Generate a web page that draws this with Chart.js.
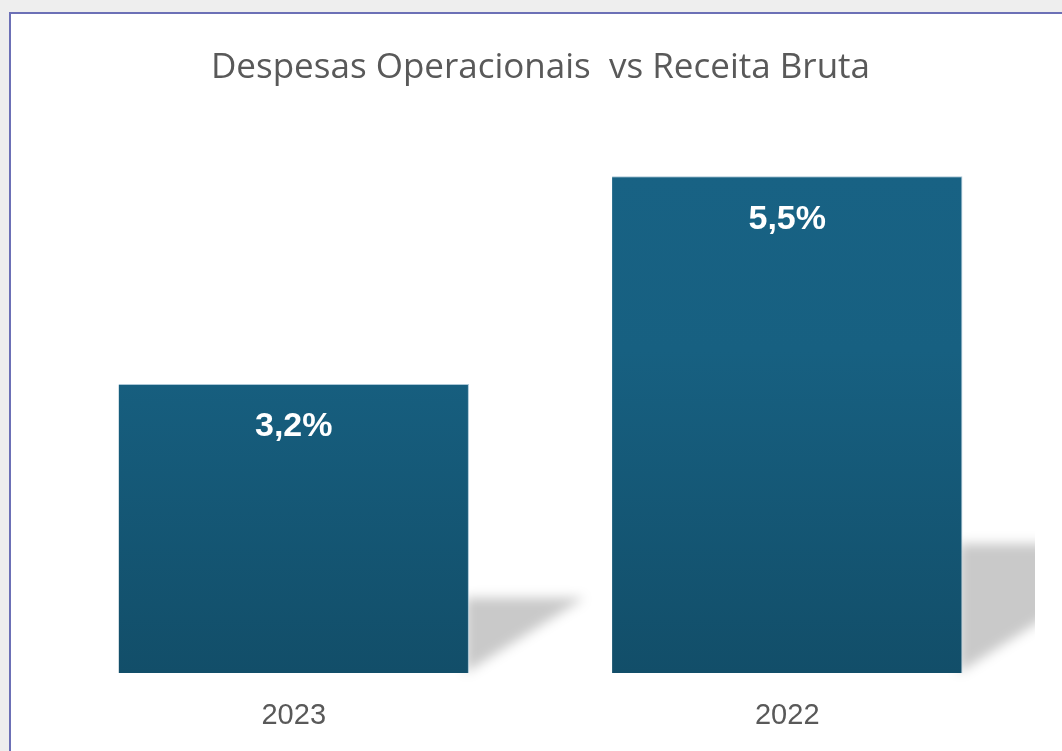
<!DOCTYPE html>
<html>
<head>
<meta charset="utf-8">
<script src="https://cdn.jsdelivr.net/npm/chart.js@4.4.0/dist/chart.umd.min.js"></script>
<style>
  html,body{margin:0;padding:0;background:#eeeeee;width:1062px;height:751px;overflow:hidden;}
  #panel{position:absolute;left:9px;top:12px;width:1100px;height:800px;background:#fff;border-top:2px solid #6c70b6;border-left:2px solid #6c70b6;}
  #c{position:absolute;left:0;top:0;}
</style>
</head>
<body>
<div id="panel"></div>
<canvas id="c" width="1062" height="751"></canvas>
<script>
const title = 'Despesas Operacionais  vs Receita Bruta';
const categories = ['2023', '2022'];
const values = [3.2, 5.5];
const valueLabels = ['3,2%', '5,5%'];

const barTop = '#186284';
const barBottom = '#124e69';

const shadowPlugin = {
  id: 'barShadow',
  beforeDatasetsDraw(chart) {
    const ctx = chart.ctx;
    const area = chart.chartArea;
    const meta = chart.getDatasetMeta(0);
    meta.data.forEach(el => {
      const g = ctx.createLinearGradient(0, el.y, 0, el.base);
      g.addColorStop(0, barTop);
      g.addColorStop(0.35, '#176081');
      g.addColorStop(1, barBottom);
      el.options.backgroundColor = g;
    });
    ctx.save();
    ctx.beginPath();
    ctx.rect(0, 0, area.right + 1, chart.height);
    ctx.clip();
    ctx.filter = 'blur(6px)';
    ctx.fillStyle = 'rgba(0,0,0,0.21)';
    meta.data.forEach(el => {
      const right = el.x + el.width / 2;
      const h = el.base - el.y;
      ctx.beginPath();
      ctx.moveTo(right - 4, el.base);
      ctx.lineTo(right - 4, el.base - 0.26 * h);
      ctx.lineTo(right + 0.4 * h, el.base - 0.26 * h);
      ctx.closePath();
      ctx.fill();
    });
    ctx.restore();
  }
};

const labelPlugin = {
  id: 'valueLabels',
  afterDatasetsDraw(chart) {
    const ctx = chart.ctx;
    const meta = chart.getDatasetMeta(0);
    ctx.save();
    ctx.fillStyle = '#ffffff';
    ctx.font = 'bold 34px "Liberation Sans", Arial, sans-serif';
    ctx.textAlign = 'center';
    ctx.textBaseline = 'middle';
    meta.data.forEach((el, i) => {
      ctx.fillText(valueLabels[i], el.x, el.y + 43);
    });
    ctx.restore();
  }
};

new Chart(document.getElementById('c'), {
  type: 'bar',
  data: {
    labels: categories,
    datasets: [{
      data: values,
      backgroundColor: barTop,
      borderColor: 'rgba(150,185,205,0.8)',
      borderWidth: {top: 1, right: 1, left: 0, bottom: 0},
      borderSkipped: false,
      barPercentage: 1,
      categoryPercentage: 0.71
    }]
  },
  options: {
    responsive: false,
    animation: false,
    events: [],
    layout: {padding: {top: 47, left: 47, right: 28, bottom: 0}},
    plugins: {
      legend: {display: false},
      tooltip: {enabled: false},
      title: {
        display: true,
        text: title,
        color: '#595959',
        font: {family: '"Open Sans", "Noto Sans", sans-serif', size: 35, weight: 'normal'},
        padding: {top: 0, bottom: 42}
      }
    },
    scales: {
      x: {
        grid: {display: false, drawTicks: false},
        border: {display: false},
        afterFit: s => { s.height = 78; },
        ticks: {
          color: '#595959',
          padding: 26,
          font: {family: '"Liberation Sans", Arial, sans-serif', size: 29}
        }
      },
      y: {
        display: false,
        min: 0,
        max: 6
      }
    }
  },
  plugins: [shadowPlugin, labelPlugin]
});
</script>
</body>
</html>
